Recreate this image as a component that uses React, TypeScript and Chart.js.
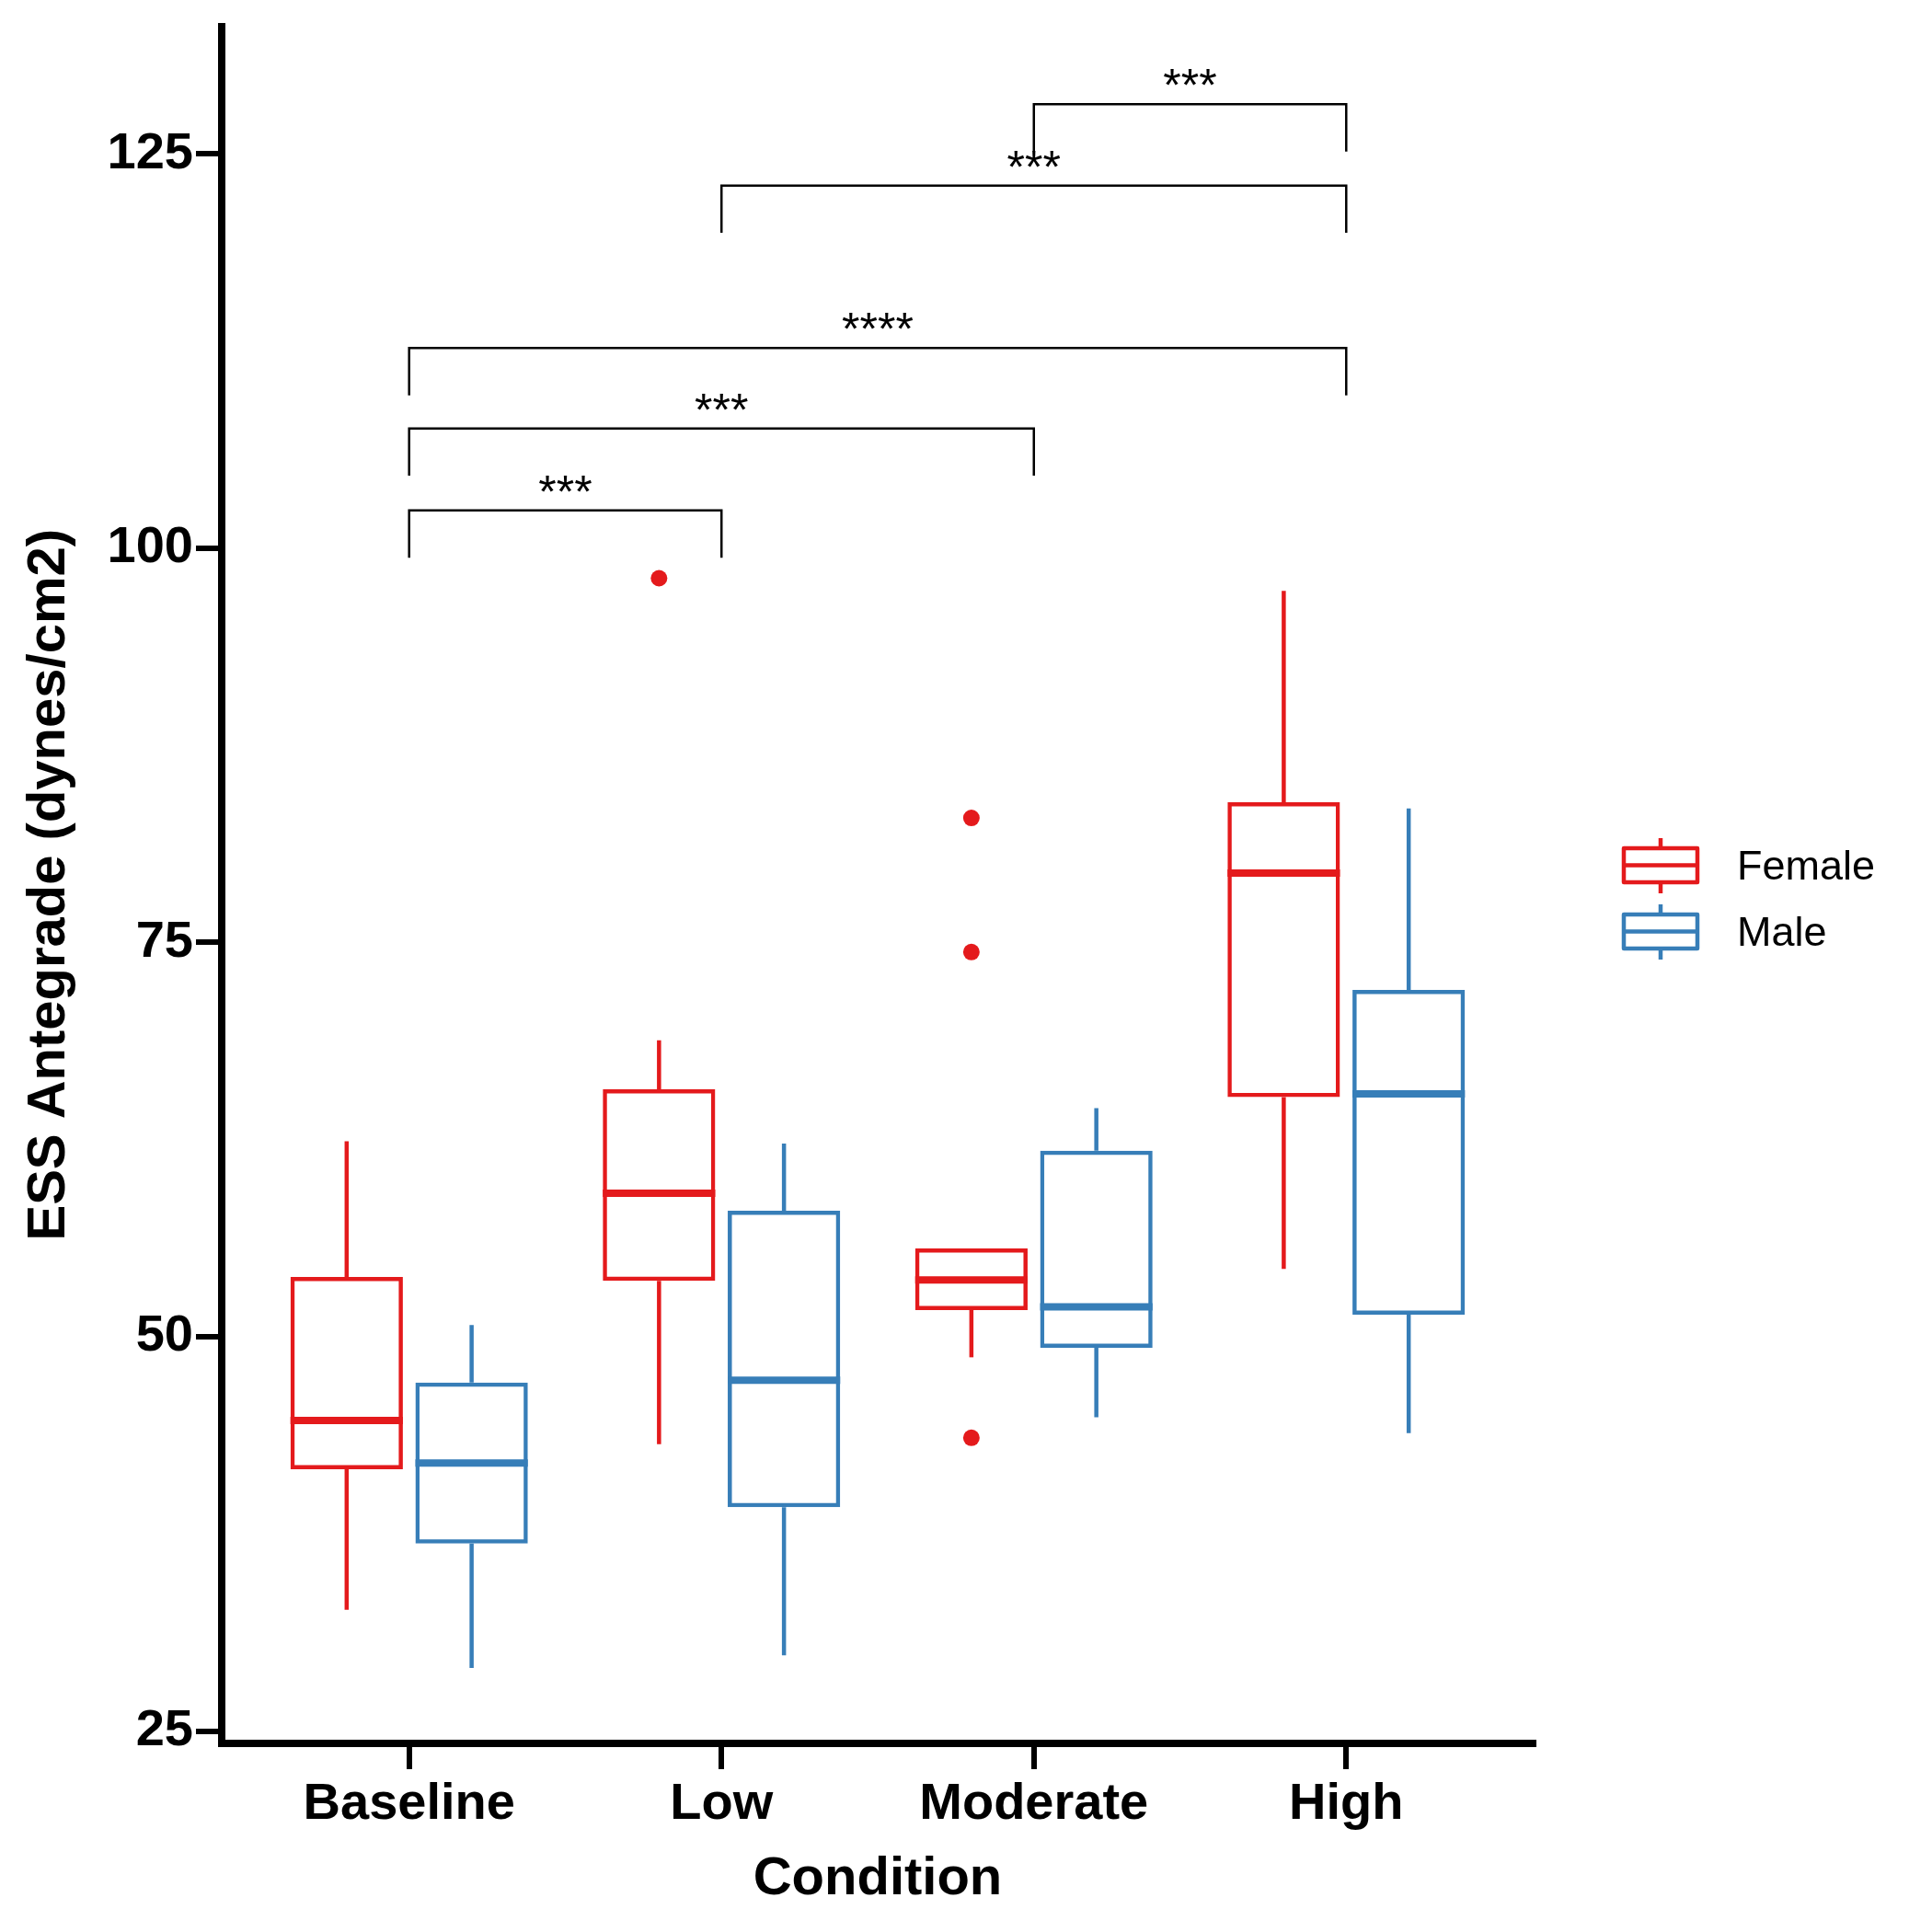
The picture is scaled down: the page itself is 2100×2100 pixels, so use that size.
import React, { useEffect, useRef } from 'react';
import { Chart, registerables } from 'chart.js';

Chart.register(...registerables);

// ---------- data ----------
const categories = ['Baseline', 'Low', 'Moderate', 'High'];
const groups = ['Female', 'Male'];

const femaleMin = [32.7, 43.2, 48.7, 54.3];
const femaleQ1 = [41.6, 53.55, 51.7, 65.2];
const femaleMedian = [44.7, 59.1, 53.6, 79.4];
const femaleQ3 = [53.8, 65.7, 55.6, 83.9];
const femaleMax = [62.4, 68.8, 55.6, 97.3];

const maleMin = [29.0, 29.8, 44.9, 43.9];
const maleQ1 = [36.9, 39.2, 49.3, 51.4];
const maleMedian = [42.0, 47.25, 51.9, 65.4];
const maleQ3 = [47.1, 58.0, 61.8, 72.0];
const maleMax = [50.75, 62.25, 64.5, 83.5];

const femaleOutlierCategory = [1, 2, 2, 2];
const femaleOutlierValue = [98.1, 82.9, 74.4, 43.6];

const yTicks = [25, 50, 75, 100, 125];

const bracketFrom = [0, 0, 0, 1, 2];
const bracketTo = [1, 2, 3, 3, 3];
const bracketY = [102.4, 107.6, 112.7, 123.0, 128.15];
const bracketLegY = [99.4, 104.6, 109.7, 120.0, 125.15];
const bracketLabel = ['***', '***', '****', '***', '***'];

// ---------- styling ----------
const RED = '#E41A1C';
const BLUE = '#377EB8';
const COLORS = [RED, BLUE];
const GROUP_OFFSET = [-0.2, 0.2];
const FONT = '"Liberation Sans", Arial, Helvetica, sans-serif';
const BOX_LINE = 4.5;

const stats = [
  { min: femaleMin, q1: femaleQ1, med: femaleMedian, q3: femaleQ3, max: femaleMax },
  { min: maleMin, q1: maleQ1, med: maleMedian, q3: maleQ3, max: maleMax },
];

const whiteBg = {
  id: 'whiteBg',
  beforeDraw(chart: any) {
    const { ctx, width, height } = chart;
    ctx.save();
    ctx.fillStyle = '#ffffff';
    ctx.fillRect(0, 0, width, height);
    ctx.restore();
  },
};

const boxExtras = {
  id: 'boxExtras',
  afterDatasetsDraw(chart: any) {
    const { ctx } = chart;
    const ys = chart.scales.y;
    ctx.save();
    stats.forEach((s, di) => {
      const meta = chart.getDatasetMeta(di);
      meta.data.forEach((bar: any, j: number) => {
        const { x, width } = bar.getProps(['x', 'width'], true);
        const yMin = ys.getPixelForValue(s.min[j]);
        const yQ1 = ys.getPixelForValue(s.q1[j]);
        const yMed = ys.getPixelForValue(s.med[j]);
        const yQ3 = ys.getPixelForValue(s.q3[j]);
        const yMax = ys.getPixelForValue(s.max[j]);
        ctx.strokeStyle = COLORS[di];
        ctx.lineCap = 'butt';
        ctx.lineWidth = BOX_LINE;
        ctx.beginPath();
        if (s.max[j] > s.q3[j]) {
          ctx.moveTo(x, yQ3);
          ctx.lineTo(x, yMax);
        }
        if (s.min[j] < s.q1[j]) {
          ctx.moveTo(x, yQ1);
          ctx.lineTo(x, yMin);
        }
        ctx.stroke();
        ctx.lineWidth = 8;
        ctx.beginPath();
        ctx.moveTo(x - width / 2, yMed);
        ctx.lineTo(x + width / 2, yMed);
        ctx.stroke();
      });
    });
    ctx.restore();
  },
};

const brackets = {
  id: 'brackets',
  afterDraw(chart: any) {
    const { ctx } = chart;
    const xs = chart.scales.x;
    const ys = chart.scales.y;
    ctx.save();
    ctx.strokeStyle = '#000';
    ctx.fillStyle = '#000';
    ctx.lineWidth = 2.5;
    ctx.font = `50px ${FONT}`;
    ctx.textAlign = 'center';
    ctx.textBaseline = 'alphabetic';
    bracketFrom.forEach((f, i) => {
      const x1 = xs.getPixelForValue(f);
      const x2 = xs.getPixelForValue(bracketTo[i]);
      const y = ys.getPixelForValue(bracketY[i]);
      const yl = ys.getPixelForValue(bracketLegY[i]);
      ctx.beginPath();
      ctx.moveTo(x1, yl);
      ctx.lineTo(x1, y);
      ctx.lineTo(x2, y);
      ctx.lineTo(x2, yl);
      ctx.stroke();
      ctx.fillText(bracketLabel[i], (x1 + x2) / 2, y - 3);
    });
    ctx.restore();
  },
};

const legendBox = {
  id: 'legendBox',
  afterDraw(chart: any) {
    const { ctx } = chart;
    ctx.save();
    const left = 1765;
    const w = 80;
    const tops = [922, 994];
    const h = 37;
    groups.forEach((g, i) => {
      const top = tops[i];
      const cx = left + w / 2;
      ctx.strokeStyle = COLORS[i];
      ctx.lineWidth = 4.5;
      ctx.lineJoin = 'round';
      ctx.strokeRect(left, top, w, h);
      ctx.beginPath();
      ctx.moveTo(left, top + h / 2);
      ctx.lineTo(left + w, top + h / 2);
      ctx.moveTo(cx, top);
      ctx.lineTo(cx, top - 11);
      ctx.moveTo(cx, top + h);
      ctx.lineTo(cx, top + h + 12);
      ctx.stroke();
      ctx.fillStyle = '#000';
      ctx.font = `45px ${FONT}`;
      ctx.textAlign = 'left';
      ctx.textBaseline = 'middle';
      ctx.fillText(g, 1888, top + h / 2 + 3);
    });
    ctx.restore();
  },
};

export default function App() {
  const ref = useRef<HTMLCanvasElement | null>(null);

  useEffect(() => {
    if (!ref.current) return;
    const datasets: any[] = stats.map((s, di) => ({
      type: 'bar',
      label: groups[di],
      data: categories.map((_, j) => ({ x: j, y: [s.q1[j], s.q3[j]] })),
      backgroundColor: 'rgba(0,0,0,0)',
      borderColor: COLORS[di],
      borderWidth: BOX_LINE,
      borderSkipped: false,
      categoryPercentage: 0.8,
      barPercentage: 0.9,
    }));
    datasets.push({
      type: 'scatter',
      label: 'Female outliers',
      data: femaleOutlierCategory.map((c, k) => ({ x: c + GROUP_OFFSET[0], y: femaleOutlierValue[k] })),
      backgroundColor: RED,
      borderColor: RED,
      pointRadius: 9,
      pointBorderWidth: 0,
    });

    const chart = new Chart(ref.current, {
      type: 'bar',
      data: { datasets },
      options: {
        responsive: false,
        animation: false,
        devicePixelRatio: 1,
        layout: { autoPadding: false, padding: { left: 0, top: 28.5, right: 433, bottom: 0 } },
        plugins: {
          legend: { display: false },
          tooltip: { enabled: false },
          title: { display: false },
        },
        scales: {
          x: {
            type: 'linear',
            min: -0.6,
            max: 3.6,
            offset: false,
            afterBuildTicks: (scale: any) => {
              scale.ticks = categories.map((_, i) => ({ value: i }));
            },
            afterFit: (scale: any) => {
              scale.height = 205;
              scale.paddingLeft = 0;
              scale.paddingRight = 0;
            },
            ticks: {
              autoSkip: false,
              maxRotation: 0,
              padding: 5,
              color: '#000',
              font: { family: FONT, size: 56, weight: 'bold' },
              callback: (v: any) => categories[Math.round(Number(v))] ?? '',
            },
            grid: {
              offset: false,
              drawOnChartArea: false,
              drawTicks: true,
              tickLength: 28,
              lineWidth: 6,
              color: '#000',
            },
            border: { display: true, width: 8, color: '#000' },
            title: {
              display: true,
              text: 'Condition',
              color: '#000',
              font: { family: FONT, size: 58, weight: 'bold' },
              padding: { top: 0, bottom: 22 },
            },
          },
          y: {
            type: 'linear',
            min: 24.22,
            max: 133.1,
            afterBuildTicks: (scale: any) => {
              scale.ticks = yTicks.map((v) => ({ value: v }));
            },
            afterFit: (scale: any) => {
              scale.width = 241;
              scale.paddingTop = 0;
              scale.paddingBottom = 0;
            },
            ticks: {
              padding: 3,
              color: '#000',
              font: { family: FONT, size: 56, weight: 'bold' },
            },
            grid: {
              offset: false,
              drawOnChartArea: false,
              drawTicks: true,
              tickLength: 28,
              lineWidth: 6,
              color: '#000',
            },
            border: { display: true, width: 8, color: '#000' },
            title: {
              display: true,
              text: 'ESS Antegrade (dynes/cm2)',
              color: '#000',
              font: { family: FONT, size: 58, weight: 'bold' },
              padding: { top: 19, bottom: 0 },
            },
          },
        },
      } as any,
      plugins: [whiteBg, boxExtras, brackets, legendBox],
    });
    return () => chart.destroy();
  }, []);

  return (
    <div style={{ position: 'absolute', left: 0, top: 0, width: 2100, height: 2100 }}>
      <canvas ref={ref} width={2100} height={2100} style={{ width: 2100, height: 2100, display: 'block' }} />
    </div>
  );
}
